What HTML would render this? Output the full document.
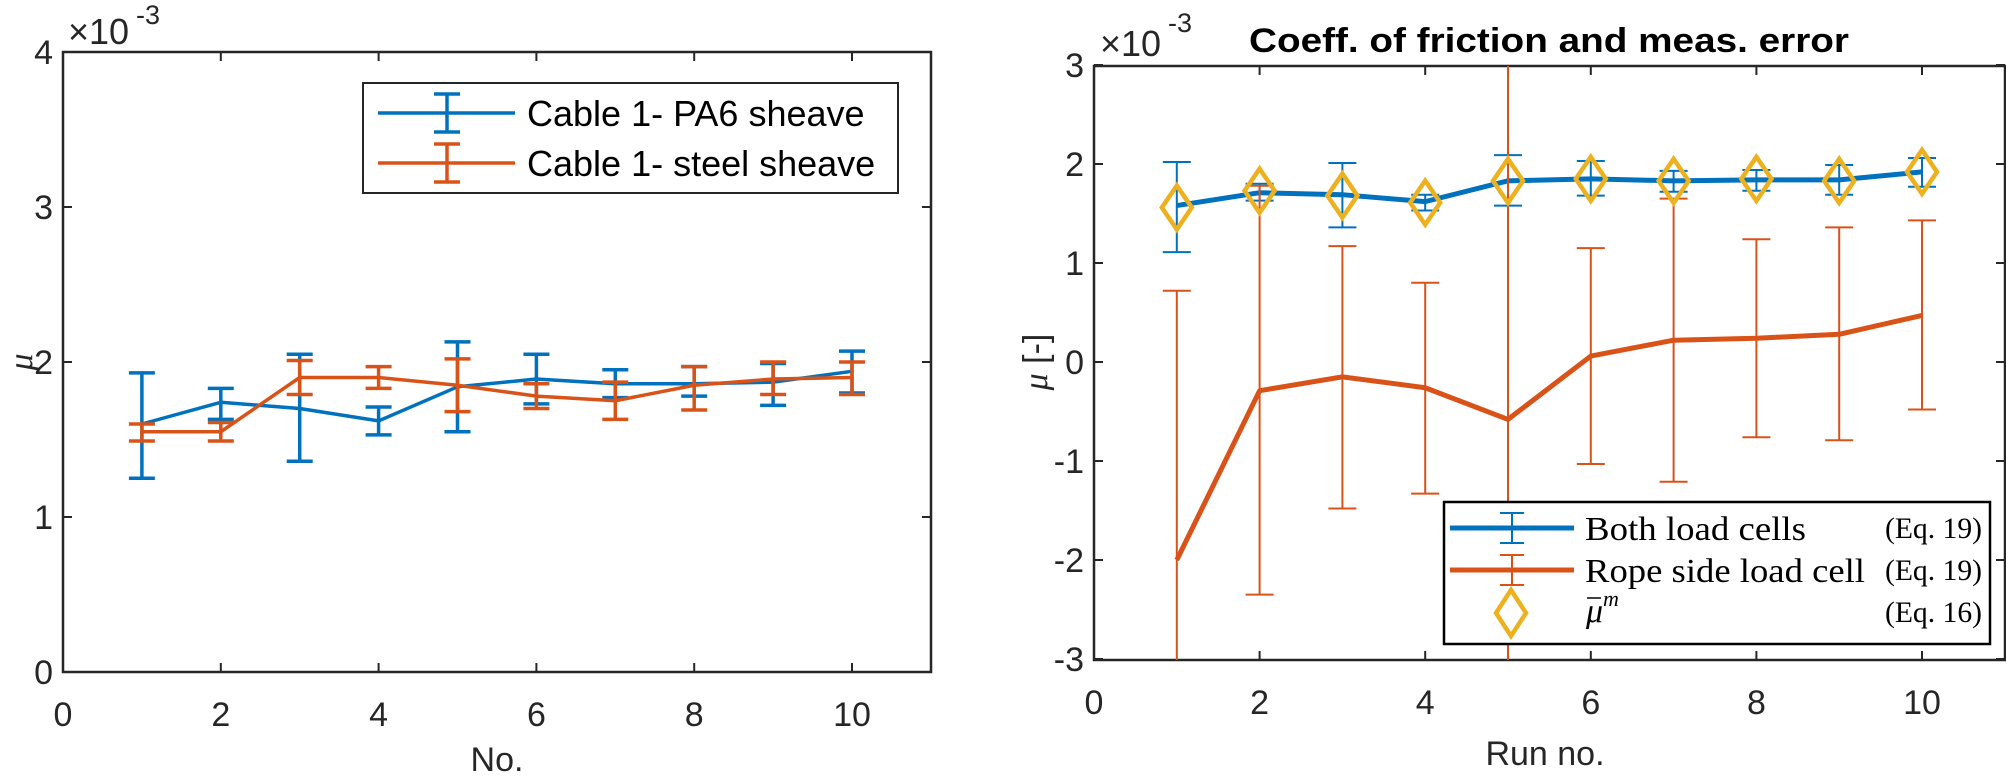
<!DOCTYPE html>
<html><head><meta charset="utf-8"><style>
html,body{margin:0;padding:0;background:#fff;overflow:hidden;width:2006px;height:778px;}
svg{display:block;font-family:"Liberation Sans",sans-serif;}
</style></head><body>
<svg id="fig" width="2006" height="778" viewBox="0 0 2006 778" xmlns="http://www.w3.org/2000/svg">
<defs><clipPath id="clipR"><rect x="1094" y="66" width="911" height="594"/></clipPath></defs>
<g id="L"></g>
<g id="R"></g>
</svg>
<script>
// Left chart data
const runsL = [1,2,3,4,5,6,7,8,9,10];
const pa6Mean = [1.60,1.74,1.70,1.62,1.84,1.89,1.86,1.86,1.87,1.94];
const pa6Up   = [1.93,1.83,2.05,1.71,2.13,2.05,1.95,1.97,1.99,2.07];
const pa6Lo   = [1.25,1.63,1.36,1.53,1.55,1.73,1.77,1.78,1.72,1.80];
const steelMean = [1.55,1.55,1.90,1.90,1.85,1.78,1.75,1.85,1.89,1.90];
const steelUp   = [1.60,1.61,2.01,1.97,2.02,1.86,1.87,1.97,2.00,2.00];
const steelLo   = [1.49,1.49,1.79,1.83,1.68,1.70,1.63,1.69,1.79,1.79];
const xTicksL = [0,2,4,6,8,10];
const yTicksL = [0,1,2,3,4];
// Right chart data
const runsR = [1,2,3,4,5,6,7,8,9,10];
const bothMean = [1.58,1.71,1.69,1.62,1.83,1.85,1.83,1.84,1.84,1.92];
const bothUp   = [2.02,1.80,2.01,1.69,2.09,2.03,1.93,1.94,1.99,2.06];
const bothLo   = [1.11,1.63,1.36,1.53,1.58,1.68,1.72,1.73,1.69,1.77];
const ropeMean = [-2.00,-0.29,-0.15,-0.26,-0.58,0.06,0.22,0.24,0.28,0.47];
const ropeUp   = [0.72,1.78,1.17,0.80,3.30,1.15,1.65,1.24,1.36,1.43];
const ropeLo   = [-4.70,-2.35,-1.48,-1.33,-4.50,-1.03,-1.21,-0.76,-0.79,-0.48];
const muBar    = [1.56,1.73,1.68,1.61,1.83,1.85,1.83,1.85,1.83,1.92];
const xTicksR = [0,2,4,6,8,10];
const yTicksR = [-3,-2,-1,0,1,2,3];

const NS="http://www.w3.org/2000/svg";
function mk(parent,tag,attrs,txt){const e=document.createElementNS(NS,tag);for(const k in attrs)e.setAttribute(k,attrs[k]);if(txt!==undefined)e.textContent=txt;parent.appendChild(e);return e;}
const BLUE="#0072BD",ORANGE="#D95319",GOLD="#EDB120";

// ---------- LEFT ----------
const L=document.getElementById('L');
const lx=v=>63+v*78.9, ly=v=>672-v*155;
function axes(G,x0,x1,y0,y1,xt,yt,fx,fy){
  xt.forEach(t=>{const X=fx(t);
    let a=mk(G,'line',{x1:X,y1:y1,x2:X,y2:y1-9,stroke:'#262626','stroke-width':2});
    
    mk(G,'line',{x1:X,y1:y0,x2:X,y2:y0+9,stroke:'#262626','stroke-width':2});
    let tl=mk(G,'text',{x:X,y:y1+54,'font-size':34,'text-anchor':'middle',fill:'#262626'},t);
    });
  yt.forEach(t=>{const Y=fy(t);
    mk(G,'line',{x1:x0,y1:Y,x2:x0+9,y2:Y,stroke:'#262626','stroke-width':2});
    mk(G,'line',{x1:x1,y1:Y,x2:x1-9,y2:Y,stroke:'#262626','stroke-width':2});
    let tl=mk(G,'text',{x:x0-10,y:Y+12,'font-size':34,'text-anchor':'end',fill:'#262626'},t);
    });
  let b=mk(G,'rect',{x:x0,y:y0,width:x1-x0,height:y1-y0,fill:'none',stroke:'#262626','stroke-width':2.5});
  
}
axes(L,63,931,52,672,xTicksL,yTicksL,lx,ly);
function series(G,xs,m,u,lo,fx,fy,col,lw,ew,cap,name,clip){
  const g=mk(G,'g',clip?{'clip-path':'url(#clipR)'}:{});
  
  const pts=xs.map((x,i)=>fx(x)+','+fy(m[i])).join(' ');
  let pl=mk(g,'polyline',{points:pts,fill:'none',stroke:col,'stroke-width':lw,'stroke-linejoin':'round'});
  
  xs.forEach((x,i)=>{const X=fx(x);
    const e=mk(g,'g',{});
    
    mk(e,'line',{x1:X,y1:fy(u[i]),x2:X,y2:fy(lo[i]),stroke:col,'stroke-width':ew});
    mk(e,'line',{x1:X-cap,y1:fy(u[i]),x2:X+cap,y2:fy(u[i]),stroke:col,'stroke-width':ew});
    mk(e,'line',{x1:X-cap,y1:fy(lo[i]),x2:X+cap,y2:fy(lo[i]),stroke:col,'stroke-width':ew});});
}
series(L,runsL,pa6Mean,pa6Up,pa6Lo,lx,ly,BLUE,3.5,3.5,13,'pa6-series',false);
series(L,runsL,steelMean,steelUp,steelLo,lx,ly,ORANGE,3.5,3.5,13,'steel-series',false);
let t;
t=mk(L,'text',{x:68,y:44,'font-size':36,fill:'#262626'},'×10');
mk(L,'text',{x:136,y:24,'font-size':27,fill:'#262626'},'-3');
t=mk(L,'text',{x:0,y:0,'font-size':34,'font-style':'italic','font-family':'Liberation Serif,serif',transform:'translate(32,362) rotate(-90)','text-anchor':'middle',fill:'#262626'},'μ');

t=mk(L,'text',{x:497,y:771,'font-size':34,'text-anchor':'middle',fill:'#262626'},'No.');

// legend
const lg=mk(L,'g',{});
mk(lg,'rect',{x:363,y:83,width:535,height:110,fill:'#fff',stroke:'#262626','stroke-width':2});
[[113,BLUE,'Cable 1- PA6 sheave'],[163,ORANGE,'Cable 1- steel sheave']].forEach(r=>{
  const e=mk(lg,'g',{});
  mk(e,'line',{x1:378,y1:r[0],x2:515,y2:r[0],stroke:r[1],'stroke-width':3.5});
  mk(e,'line',{x1:447,y1:r[0]-19,x2:447,y2:r[0]+19,stroke:r[1],'stroke-width':3.5});
  mk(e,'line',{x1:434,y1:r[0]-19,x2:460,y2:r[0]-19,stroke:r[1],'stroke-width':3.5});
  mk(e,'line',{x1:434,y1:r[0]+19,x2:460,y2:r[0]+19,stroke:r[1],'stroke-width':3.5});
  mk(e,'text',{x:527,y:r[0]+13,'font-size':36,fill:'#000'},r[2]);});

// ---------- RIGHT ----------
const R=document.getElementById('R');
const rx=v=>1094+v*82.8, ry=v=>362-v*99;
axes(R,1094,2005,66,660,xTicksR,yTicksR,rx,ry);
series(R,runsR,bothMean,bothUp,bothLo,rx,ry,BLUE,5,2,14,'both-load-cells-series',true);
series(R,runsR,ropeMean,ropeUp,ropeLo,rx,ry,ORANGE,5,2,14,'rope-side-series',true);
const dg=mk(R,'g',{});
runsR.forEach((x,i)=>{const X=rx(x),Y=ry(muBar[i]);
  const d=mk(dg,'polygon',{points:`${X},${Y-22} ${X+15},${Y} ${X},${Y+22} ${X-15},${Y}`,fill:'none',stroke:GOLD,'stroke-width':4.5});
  });
t=mk(R,'text',{x:1100,y:56,'font-size':36,fill:'#262626'},'×10');
mk(R,'text',{x:1168,y:32,'font-size':27,fill:'#262626'},'-3');
t=mk(R,'text',{x:1549,y:52,'font-size':34,'font-weight':'bold','text-anchor':'middle',textLength:600,lengthAdjust:'spacingAndGlyphs',fill:'#000'},'Coeff. of friction and meas. error');

t=mk(R,'text',{x:0,y:0,'font-size':34,fill:'#262626',transform:'translate(1047,362) rotate(-90)','text-anchor':'middle'},'');

mk(t,'tspan',{'font-style':'italic','font-family':'Liberation Serif,serif'},'μ');
mk(t,'tspan',{},' [-]');
t=mk(R,'text',{x:1545,y:765,'font-size':34,'text-anchor':'middle',fill:'#262626'},'Run no.');

const rg=mk(R,'g',{});
mk(rg,'rect',{x:1444,y:502,width:546,height:142,fill:'#fff',stroke:'#000','stroke-width':2.5});
[[528,BLUE,'Both load cells','(Eq. 19)',221],[570,ORANGE,'Rope side load cell','(Eq. 19)',280]].forEach(r=>{
  const e=mk(rg,'g',{});
  mk(e,'line',{x1:1450,y1:r[0],x2:1574,y2:r[0],stroke:r[1],'stroke-width':5});
  mk(e,'line',{x1:1512,y1:r[0]-15,x2:1512,y2:r[0]+15,stroke:r[1],'stroke-width':2});
  mk(e,'line',{x1:1500,y1:r[0]-15,x2:1524,y2:r[0]-15,stroke:r[1],'stroke-width':2});
  mk(e,'line',{x1:1500,y1:r[0]+15,x2:1524,y2:r[0]+15,stroke:r[1],'stroke-width':2});
  mk(e,'text',{x:1585,y:r[0]+12,'font-size':34,'font-family':'Liberation Serif,serif',textLength:r[4],lengthAdjust:'spacingAndGlyphs',fill:'#000'},r[2]);
  mk(e,'text',{x:1982,y:r[0]+10,'font-size':30,'font-family':'Liberation Serif,serif','text-anchor':'end',textLength:97,lengthAdjust:'spacingAndGlyphs',fill:'#000'},r[3]);});
const e3=mk(rg,'g',{});
mk(e3,'polygon',{points:'1511,590 1526,613 1511,636 1496,613',fill:'none',stroke:GOLD,'stroke-width':4.5});
mk(e3,'line',{x1:1587,y1:598,x2:1601,y2:598,stroke:'#000','stroke-width':1.5});
mk(e3,'text',{x:1586,y:622,'font-size':34,'font-style':'italic','font-family':'Liberation Serif,serif',fill:'#000'},'μ');
mk(e3,'text',{x:1603,y:606,'font-size':22,'font-style':'italic','font-family':'Liberation Serif,serif',fill:'#000'},'m');
mk(e3,'text',{x:1982,y:622,'font-size':30,'font-family':'Liberation Serif,serif','text-anchor':'end',textLength:97,lengthAdjust:'spacingAndGlyphs',fill:'#000'},'(Eq. 16)');
</script>
</body></html>
